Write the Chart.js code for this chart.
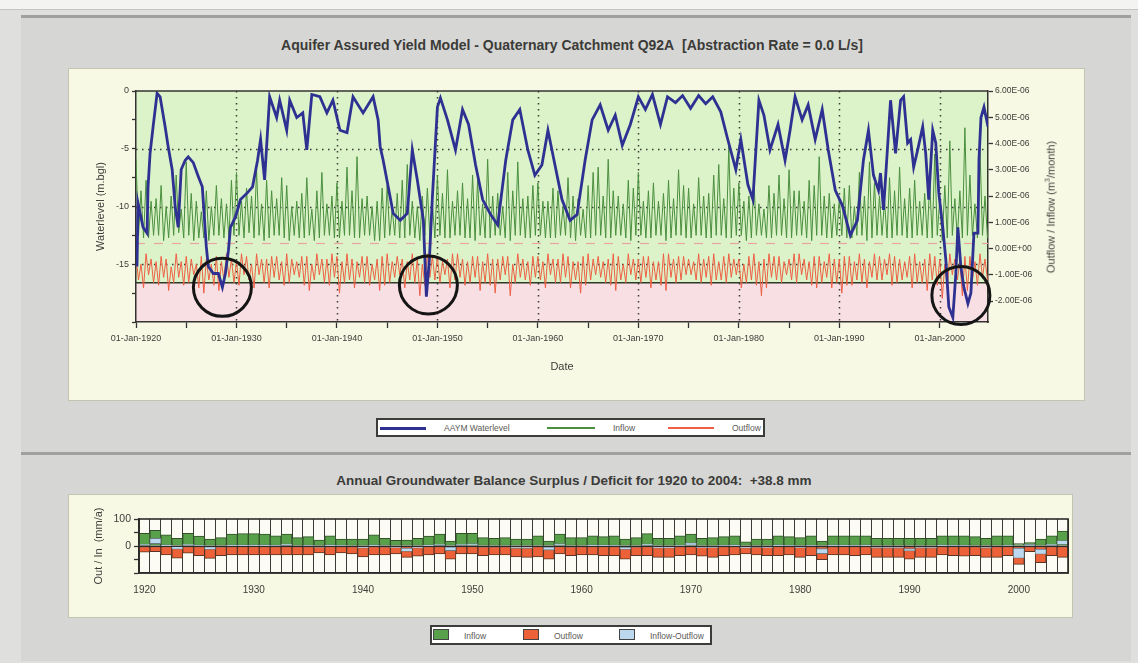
<!DOCTYPE html>
<html><head><meta charset="utf-8">
<script src="https://cdn.jsdelivr.net/npm/chart.js@4.4.0/dist/chart.umd.min.js"></script>
<style>
html,body{margin:0;padding:0;}
body{width:1138px;height:663px;background:#dfdfdd;position:relative;overflow:hidden;font-family:"Liberation Sans",Arial,sans-serif;}
.strip{position:absolute;left:0;top:0;width:1138px;height:9px;background:#f3f3f1;border-bottom:1px solid #c4c4c2;}
.panel{position:absolute;left:21px;width:1110px;background:#d6d6d4;border-top:3px solid #a0a09e;box-sizing:border-box;}
#p1{top:15px;height:437px;}
#p2{top:452px;height:209px;}
.inner{position:absolute;background:#f8f9e5;border:1px solid #c4c4b2;box-sizing:border-box;}
#i1{left:68px;top:68px;width:1017px;height:333px;}
#i2{left:68px;top:494px;width:1005px;height:124px;}
canvas{position:absolute;}
#c1{left:68px;top:68px;}
#c2{left:68px;top:494px;}
.title{position:absolute;text-align:center;font-weight:bold;color:#3b3b38;white-space:nowrap;}
#t1{left:222px;width:700px;top:37px;font-size:14px;}
#t2{left:224px;width:700px;top:473px;font-size:13.5px;}
.legend{position:absolute;background:#fff;border:2px solid #3c3c3a;box-sizing:border-box;}
.lg{position:absolute;font-size:8.5px;color:#5a5a55;white-space:nowrap;}
.ln{position:absolute;height:2px;}
.sq{position:absolute;width:16px;height:11px;border:1px solid #444;box-sizing:border-box;}
#rtitle{position:absolute;left:1050px;top:207px;transform:translate(-50%,-50%) rotate(-90deg);font-size:11px;color:#45453f;white-space:nowrap;}
</style></head>
<body>
<div class="strip"></div>
<div class="panel" id="p1"></div>
<div class="panel" id="p2"></div>
<div class="inner" id="i1"></div>
<div class="inner" id="i2"></div>
<div class="title" id="t1">Aquifer Assured Yield Model - Quaternary Catchment Q92A&nbsp;&nbsp;[Abstraction Rate = 0.0 L/s]</div>
<div class="title" id="t2">Annual Groundwater Balance Surplus / Deficit for 1920 to 2004:&nbsp; +38.8 mm</div>
<canvas id="c1" width="1017" height="333"></canvas>
<canvas id="c2" width="1005" height="124"></canvas>
<div id="rtitle">Outflow / Inflow (m<sup style="font-size:7px">3</sup>/month)</div>

<div class="legend" style="left:376px;top:418px;width:389px;height:19px;">
  <div class="ln" style="left:2px;top:7px;width:46px;height:3px;background:#2e3192"></div>
  <div class="lg" style="left:66px;top:3px;">AAYM Waterlevel</div>
  <div class="ln" style="left:169px;top:7px;width:48px;background:#4a8f3e"></div>
  <div class="lg" style="left:235px;top:3px;">Inflow</div>
  <div class="ln" style="left:290px;top:7px;width:46px;background:#ef5f45"></div>
  <div class="lg" style="left:354px;top:3px;">Outflow</div>
</div>
<div class="legend" style="left:430px;top:625px;width:282px;height:20px;">
  <div class="sq" style="left:1px;top:2px;background:#58a04a"></div>
  <div class="lg" style="left:32px;top:4px;">Inflow</div>
  <div class="sq" style="left:91px;top:2px;background:#ec6137"></div>
  <div class="lg" style="left:122px;top:4px;">Outflow</div>
  <div class="sq" style="left:187px;top:2px;background:#bcd8ef"></div>
  <div class="lg" style="left:218px;top:4px;">Inflow-Outflow</div>
</div>

<script>
// ---------------- DATA ----------------
// Waterlevel trace (decimal year, m below ground level)
const wlYears = [1920.1,1920.2,1920.7,1921.1,1921.2,1921.4,1921.7,1922.1,1922.4,1922.9,1923.2,1923.6,1923.9,1924.2,1924.5,1924.9,1925.2,1925.7,1926.2,1926.6,1926.8,1927.0,1927.2,1927.7,1928.2,1928.6,1928.9,1929.2,1929.4,1929.9,1930.4,1931.1,1931.6,1932.1,1932.4,1932.8,1933.3,1934.0,1934.3,1935.0,1935.3,1936.0,1936.6,1937.0,1937.5,1938.3,1939.0,1939.6,1940.3,1941.0,1941.6,1942.6,1943.6,1944.1,1944.3,1944.6,1945.3,1945.6,1946.3,1947.0,1947.5,1948.0,1948.6,1948.9,1949.2,1949.5,1950.0,1950.3,1951.0,1951.8,1952.5,1953.1,1953.8,1954.5,1955.3,1956.0,1956.8,1957.5,1958.2,1959.0,1959.7,1960.4,1961.0,1961.7,1962.4,1963.2,1963.9,1964.7,1965.4,1966.2,1967.0,1967.7,1968.4,1969.2,1970.0,1970.7,1971.4,1972.2,1972.9,1973.7,1974.4,1975.2,1976.0,1976.7,1977.4,1978.2,1978.9,1979.7,1980.2,1980.9,1981.4,1982.0,1982.5,1983.1,1983.9,1984.6,1985.1,1985.6,1986.3,1986.9,1987.6,1988.3,1988.9,1989.6,1990.3,1991.1,1991.8,1992.4,1992.9,1993.4,1993.9,1994.1,1994.4,1995.1,1995.6,1996.1,1996.4,1996.8,1997.1,1997.4,1997.8,1998.3,1998.6,1998.9,1999.3,1999.6,1999.9,2000.3,2000.6,2000.9,2001.3,2001.6,2001.8,2002.1,2002.4,2002.8,2003.1,2003.4,2003.8,2003.9,2004.1,2004.4,2004.8];
const wlLevels = [-15.2,-9.7,-11.8,-12.3,-8.3,-5.4,-3.1,-0.2,-0.5,-3.1,-4.8,-6.8,-10.0,-11.8,-6.8,-6.0,-5.7,-6.2,-7.4,-8.3,-10.9,-13.5,-15.2,-15.8,-15.8,-17.0,-15.8,-13.8,-11.8,-10.9,-9.4,-8.8,-8.3,-6.0,-4.2,-7.7,-0.5,-2.3,-0.8,-3.4,-0.8,-2.3,-1.9,-5.1,-0.3,-0.5,-1.9,-0.8,-3.4,-3.6,-0.5,-1.9,-0.5,-2.5,-4.8,-6.0,-9.2,-10.6,-11.2,-10.6,-5.1,-7.7,-11.2,-17.8,-14.6,-9.2,-1.4,-0.6,-2.5,-5.1,-1.6,-2.9,-6.4,-9.4,-10.7,-11.6,-6.0,-2.5,-1.6,-5.1,-7.3,-6.4,-3.4,-6.4,-9.4,-11.2,-10.7,-6.0,-2.5,-1.2,-3.4,-2.1,-4.7,-2.9,-0.5,-1.6,-0.3,-2.9,-0.5,-1.0,-0.4,-1.5,-0.4,-1.1,-0.5,-1.8,-4.2,-6.8,-4.2,-8.1,-9.4,-0.8,-2.1,-5.1,-2.9,-6.0,-3.4,-0.5,-2.5,-1.2,-4.2,-1.6,-5.1,-8.6,-9.9,-12.5,-11.2,-6.0,-3.4,-7.3,-8.6,-7.1,-10.3,-0.8,-5.4,-0.8,-0.5,-4.5,-4.2,-6.6,-5.1,-3.1,-5.4,-9.4,-3.4,-4.5,-8.8,-11.8,-14.6,-18.7,-19.6,-15.8,-11.8,-15.2,-17.0,-18.4,-17.5,-12.3,-12.3,-6.0,-2.3,-1.4,-3.1];

// Inflow / outflow, 4 readings per year from 1920 (units of 1E-06 m3/month)
const flowStartYear = 1920;
const flowPerYear = 4;
const inflow = [
3.4,0.5,2.2,0.4, 2.6,0.4,1.8,0.5, 1.9,0.5,2.4,0.3, 1.6,0.4,2.0,0.5, 2.8,0.6,1.5,0.4, 3.3,0.5,2.1,0.3, 1.8,0.4,1.4,0.4, 2.2,0.3,1.6,0.5, 2.4,0.5,1.9,0.4, 1.7,0.4,2.6,0.5,
2.9,0.5,1.8,0.4, 2.3,0.6,2.0,0.4, 3.0,0.5,1.7,0.3, 2.6,0.4,2.2,0.5, 1.9,0.5,2.7,0.4, 2.4,0.3,1.6,0.5, 1.8,0.4,2.1,0.4, 2.7,0.5,1.5,0.3, 2.2,0.4,2.9,0.5, 1.7,0.5,2.0,0.4,
2.5,0.4,1.8,0.5, 3.1,0.5,2.2,0.4, 3.5,0.4,1.9,0.5, 2.0,0.5,1.6,0.3, 1.8,0.3,2.3,0.4, 2.4,0.5,1.5,0.5, 2.1,0.4,2.6,0.4, 3.2,0.5,1.8,0.4, 1.6,0.3,2.0,0.5, 2.3,0.4,1.7,0.4,
2.8,0.5,2.1,0.4, 3.0,0.4,1.8,0.5, 2.2,0.5,2.5,0.4, 1.9,0.4,2.8,0.3, 2.6,0.5,1.7,0.4, 3.4,0.4,2.0,0.5, 2.1,0.5,1.6,0.4, 2.9,0.3,2.2,0.5, 3.3,0.5,1.9,0.4, 2.0,0.4,2.4,0.5,
2.5,0.5,1.8,0.4, 1.8,0.4,2.3,0.4, 2.2,0.5,1.6,0.5, 2.7,0.4,2.0,0.3, 1.9,0.5,1.5,0.4, 2.4,0.4,2.9,0.5, 3.1,0.5,2.0,0.4, 3.4,0.4,2.2,0.5, 2.0,0.5,1.7,0.4, 2.6,0.3,2.3,0.5,
2.9,0.5,1.8,0.4, 2.2,0.4,2.5,0.5, 1.8,0.5,2.1,0.3, 2.6,0.4,1.9,0.5, 3.0,0.5,2.4,0.4, 2.3,0.4,1.7,0.5, 2.7,0.5,2.0,0.4, 2.1,0.4,2.8,0.5, 3.2,0.5,1.9,0.4, 3.9,0.4,2.3,0.5,
2.5,0.5,1.8,0.3, 2.0,0.4,2.6,0.5, 1.7,0.5,1.5,0.4, 2.4,0.4,2.1,0.5, 2.8,0.5,1.9,0.4, 3.0,0.4,2.2,0.5, 2.2,0.5,1.8,0.4, 2.6,0.3,2.4,0.5, 3.5,0.5,2.0,0.4, 2.1,0.4,1.7,0.5,
1.9,0.5,2.3,0.4, 2.4,0.4,1.6,0.5, 2.9,0.5,2.0,0.3, 3.3,0.4,2.5,0.5, 2.0,0.5,1.8,0.4, 2.7,0.4,2.2,0.5, 3.1,0.5,1.9,0.4, 2.3,0.4,2.6,0.5, 1.8,0.5,2.1,0.4, 2.5,0.4,3.6,0.5,
1.9,0.3,2.4,0.4, 4.1,0.5,1.9,0.4, 2.2,0.4,4.6,0.5, 2.8,0.5,1.7,0.4, 3.8,0.5,2.0,0.4];
const outflow = [
-0.3,-1.2,-0.6,-1.5, -0.2,-1.0,-0.4,-1.3, -0.5,-1.4,-0.3,-1.1, -0.4,-1.6,-0.7,-1.3, -0.2,-1.1,-0.5,-1.4, -0.3,-1.3,-0.4,-1.0, -0.6,-1.5,-0.3,-1.7, -0.4,-1.2,-0.6,-1.4, -0.3,-1.6,-0.5,-1.2, -0.2,-1.1,-0.4,-1.3,
-0.5,-1.4,-0.2,-1.0, -0.3,-1.2,-0.6,-1.5, -0.2,-1.0,-0.4,-1.3, -0.4,-1.5,-0.3,-1.1, -0.3,-1.2,-0.5,-1.4, -0.2,-1.3,-0.4,-1.0, -0.5,-1.1,-0.3,-1.4, -0.3,-1.6,-0.6,-1.2, -0.2,-1.0,-0.4,-1.3, -0.4,-1.4,-0.2,-1.1,
-0.3,-1.7,-0.5,-1.3, -0.2,-1.2,-0.4,-1.5, -0.5,-1.1,-0.3,-1.3, -0.3,-1.4,-0.6,-1.2, -0.4,-1.6,-0.3,-1.4, -0.2,-1.3,-0.5,-1.1, -0.3,-1.0,-0.4,-1.5, -0.5,-1.2,-0.2,-1.3, -0.4,-1.8,-0.6,-1.4, -0.2,-1.1,-0.3,-1.2,
-0.3,-1.3,-0.5,-1.0, -0.4,-1.5,-0.2,-1.2, -0.2,-1.1,-0.4,-1.4, -0.5,-1.3,-0.3,-1.1, -0.3,-1.6,-0.5,-1.3, -0.2,-1.4,-0.4,-1.7, -0.4,-1.2,-0.3,-1.0, -0.3,-1.8,-0.6,-1.3, -0.2,-1.1,-0.4,-1.2, -0.5,-1.4,-0.3,-1.1,
-0.3,-1.2,-0.5,-1.5, -0.2,-1.0,-0.4,-1.3, -0.4,-1.3,-0.2,-1.1, -0.3,-1.5,-0.5,-1.2, -0.5,-1.7,-0.3,-1.4, -0.2,-1.2,-0.4,-1.0, -0.3,-1.1,-0.5,-1.3, -0.4,-1.4,-0.2,-1.6, -0.3,-1.2,-0.6,-1.3, -0.2,-1.0,-0.4,-1.2,
-0.4,-1.3,-0.3,-1.1, -0.3,-1.5,-0.5,-1.2, -0.5,-1.4,-0.2,-1.6, -0.2,-1.1,-0.4,-1.3, -0.3,-1.2,-0.3,-1.0, -0.4,-1.0,-0.5,-1.2, -0.2,-1.3,-0.4,-1.1, -0.3,-1.4,-0.2,-1.2, -0.5,-1.2,-0.3,-1.3, -0.2,-1.1,-0.4,-1.0,
-0.4,-1.5,-0.6,-1.3, -0.3,-1.2,-0.2,-1.4, -0.5,-1.8,-0.4,-1.5, -0.2,-1.1,-0.3,-1.2, -0.3,-1.3,-0.5,-1.0, -0.4,-1.2,-0.2,-1.3, -0.2,-1.0,-0.4,-1.2, -0.5,-1.4,-0.3,-1.5, -0.3,-1.3,-0.5,-1.1, -0.2,-1.5,-0.4,-1.3,
-0.4,-1.7,-0.3,-1.4, -0.3,-1.4,-0.5,-1.2, -0.2,-1.3,-0.4,-1.5, -0.5,-1.1,-0.2,-1.2, -0.3,-1.2,-0.4,-1.0, -0.2,-1.4,-0.3,-1.3, -0.4,-1.2,-0.5,-1.1, -0.3,-1.5,-0.2,-1.3, -0.5,-1.3,-0.4,-1.6, -0.2,-1.2,-0.3,-1.4,
-0.4,-1.9,-0.6,-1.5, -0.2,-1.0,-0.4,-1.2, -0.5,-1.8,-0.3,-1.6, -0.3,-1.2,-0.5,-1.4, -0.2,-1.1,-0.4,-1.2];

// Axis tick values
const xTickYears = [1920,1925,1930,1935,1940,1945,1950,1955,1960,1965,1970,1975,1980,1985,1990,1995,2000];
const gridYears = [1930,1940,1950,1960,1970,1980,1990,2000];
const levelTicks = [0,-2.5,-5,-7.5,-10,-12.5,-15,-17.5,-20];
const levelGrid = [-5,-10,-15];
const flowTicks = [-2,-1,0,1,2,3,4,5,6];
const bandLevel = -16.6;      // level of the green/pink boundary line
const dashLevel = -13.2;      // faint red dashed line
const circleMarks = [[1928.6,-17.0],[1949.1,-16.8],[2002.1,-17.7]];

// Annual balance (mm/a)
const years = [];
for (let y = 1920; y <= 2004; y++) years.push(y);
const annualInflow = [47,58,41,28,47,37,26,31,44,46, 46,44,38,44,31,35,22,38,26,26, 26,41,28,21,22,28,37,44,18,47, 47,31,28,31,26,26,38,18,44,31, 31,38,35,38,26,31,46,28,28,38, 44,28,31,35,38,15,26,26,38,35, 31,38,18,38,38,38,38,28,28,28, 28,28,28,38,38,38,35,28,38,38, 9,13,26,38,55];
const annualOutflow = [-23,-21,-33,-45,-27,-36,-46,-36,-33,-33, -33,-33,-33,-33,-33,-33,-26,-33,-26,-29, -40,-33,-33,-29,-42,-38,-33,-29,-49,-29, -29,-36,-33,-33,-40,-42,-40,-49,-29,-36, -33,-33,-36,-36,-49,-36,-36,-42,-42,-36, -33,-38,-42,-36,-33,-29,-33,-36,-36,-33, -42,-36,-51,-33,-33,-36,-33,-42,-42,-42, -49,-42,-42,-33,-36,-38,-36,-42,-42,-36, -68,-21,-62,-36,-42];
const annualBalance = [[2,7],[9,28],[1,4],[-12,-2],[2,6],[1,3],[-13,-3],[-4,-1],[1,4],[1,4],
 [1,4],[1,4],[1,3],[2,8],[-3,-1],[1,3],[-5,-1],[1,4],[1,3],[-3,-1],
 [-8,-2],[1,4],[-4,-1],[-6,-2],[-20,-8],[-8,-2],[1,4],[2,7],[-17,-4],[2,7],
 [3,9],[-4,-1],[-4,-1],[-3,-1],[-9,-3],[-9,-3],[-3,-1],[-15,-4],[3,9],[-4,-1],
 [-3,-1],[1,4],[1,4],[1,3],[-13,-5],[-4,-1],[2,8],[-8,-2],[-8,-2],[1,3],
 [3,12],[-6,-2],[-6,-2],[1,3],[1,4],[-8,-2],[-5,-1],[-6,-2],[1,4],[1,3],
 [-6,-2],[1,3],[-28,-10],[1,4],[1,4],[1,3],[1,4],[-8,-3],[-8,-3],[-8,-3],
 [-18,-10],[-8,-3],[-8,-3],[1,4],[1,3],[1,3],[-3,-1],[-8,-3],[-3,-1],[1,3],
 [-45,-8],[1,6],[-30,-12],[1,7],[6,20]];
const balanceTicks = [-100,-50,0,50,100];

// ---------------- CHART 1 ----------------
const F = "'Liberation Sans', Arial, sans-serif";
const TXT = '#3c3c38';

const topPlugin = {
  id: 'topDecor',
  beforeDraw(chart) {
    const {ctx, chartArea: a, scales: {y}} = chart;
    const yb = y.getPixelForValue(bandLevel);
    ctx.save();
    ctx.fillStyle = '#dcf3c9';
    ctx.fillRect(a.left, a.top, a.width, yb - a.top);
    ctx.fillStyle = '#f8dfe3';
    ctx.fillRect(a.left, yb, a.width, a.bottom - yb);
    ctx.restore();
  },
  beforeDatasetsDraw(chart) {
    const {ctx, chartArea: a, scales: {x, y}} = chart;
    ctx.save();
    ctx.strokeStyle = '#3a3a36';
    ctx.lineWidth = 1.5;
    ctx.setLineDash([1.5, 4.5]);
    gridYears.forEach(v => {
      const px = Math.round(x.getPixelForValue(v)) + 0.5;
      ctx.beginPath(); ctx.moveTo(px, a.top); ctx.lineTo(px, a.bottom); ctx.stroke();
    });
    levelGrid.forEach(v => {
      const py = Math.round(y.getPixelForValue(v)) + 0.5;
      ctx.beginPath(); ctx.moveTo(a.left, py); ctx.lineTo(a.right, py); ctx.stroke();
    });
    ctx.strokeStyle = '#eba3a3';
    ctx.lineWidth = 1.2;
    ctx.setLineDash([9, 9]);
    const pd = Math.round(y.getPixelForValue(dashLevel)) + 0.5;
    ctx.beginPath(); ctx.moveTo(a.left, pd); ctx.lineTo(a.right, pd); ctx.stroke();
    ctx.setLineDash([]);
    ctx.strokeStyle = '#2f3a2a';
    ctx.lineWidth = 1.6;
    const pb = y.getPixelForValue(bandLevel);
    ctx.beginPath(); ctx.moveTo(a.left, pb); ctx.lineTo(a.right, pb); ctx.stroke();
    ctx.restore();
  },
  afterDatasetsDraw(chart) {
    const {ctx, chartArea: a, scales: {x, y}} = chart;
    ctx.save();
    ctx.strokeStyle = '#333330';
    ctx.lineWidth = 1.5;
    ctx.beginPath(); ctx.moveTo(a.left, a.top); ctx.lineTo(a.right, a.top); ctx.stroke();
    ctx.strokeStyle = '#151515';
    ctx.lineWidth = 3;
    circleMarks.forEach(([cx, cy]) => {
      ctx.beginPath();
      ctx.arc(x.getPixelForValue(cx), y.getPixelForValue(cy), 29, 0, Math.PI * 2);
      ctx.stroke();
    });
    ctx.restore();
  }
};

new Chart(document.getElementById('c1'), {
  type: 'line',
  data: {
    datasets: [
      {label: 'AAYM Waterlevel', yAxisID: 'y', order: 0,
       data: wlYears.map((t, i) => ({x: t, y: wlLevels[i]})),
       borderColor: '#2e3192', borderWidth: 2.8, pointRadius: 0, tension: 0},
      {label: 'Outflow', yAxisID: 'y2', order: 1,
       data: outflow.map((v, i) => ({x: flowStartYear + i / flowPerYear, y: v})),
       borderColor: '#ef5f45', borderWidth: 1, pointRadius: 0, tension: 0},
      {label: 'Inflow', yAxisID: 'y2', order: 2,
       data: inflow.map((v, i) => ({x: flowStartYear + i / flowPerYear, y: v})),
       borderColor: '#4a8f3e', borderWidth: 1, pointRadius: 0, tension: 0}
    ]
  },
  options: {
    responsive: false, animation: false, events: [],
    layout: {padding: {top: 23, left: 0, right: 0, bottom: 0}},
    plugins: {legend: {display: false}, tooltip: {enabled: false}},
    scales: {
      x: {
        type: 'linear', min: 1920, max: 2004.8,
        afterBuildTicks: s => { s.ticks = xTickYears.map(v => ({value: v})); },
        afterFit: s => { s.height = 79; },
        ticks: {callback: v => (v % 10 === 0 ? '01-Jan-' + v : ''), autoSkip: false, maxRotation: 0,
                font: {size: 9, family: F}, color: TXT, padding: 5},
        grid: {drawOnChartArea: false, tickLength: 6, tickColor: '#333', tickWidth: 1.3},
        border: {color: '#333330', width: 1.5},
        title: {display: true, text: 'Date', font: {size: 11, family: F}, color: TXT, padding: {top: 0, bottom: 27}}
      },
      y: {
        position: 'left', min: -20, max: 0,
        afterBuildTicks: s => { s.ticks = levelTicks.map(v => ({value: v})); },
        afterFit: s => { s.width = 68; },
        ticks: {callback: v => (v % 5 === 0 && v !== -20 ? String(v) : ''), autoSkip: false,
                font: {size: 9, family: F}, color: TXT, padding: 3},
        grid: {drawOnChartArea: false, tickLength: 4, tickColor: '#333', tickWidth: 1.3},
        border: {color: '#333330', width: 1.5},
        title: {display: true, text: 'Waterlevel (m.bgl)', font: {size: 11, family: F}, color: TXT, padding: {top: 26, bottom: 0}}
      },
      y2: {
        position: 'right', min: -2.8, max: 6,
        afterBuildTicks: s => { s.ticks = flowTicks.map(v => ({value: v})); },
        afterFit: s => { s.width = 97; },
        ticks: {callback: v => (v === 0 ? '0.00E+00' : v.toFixed(2) + 'E-06'), autoSkip: false,
                font: {size: 8.5, family: F}, color: TXT, padding: 2},
        grid: {drawOnChartArea: false, tickLength: 5, tickColor: '#333', tickWidth: 1.3},
        border: {color: '#333330', width: 1.5}
      }
    }
  },
  plugins: [topPlugin]
});

// ---------------- CHART 2 ----------------
const botPlugin = {
  id: 'botDecor',
  beforeDraw(chart) {
    const {ctx, chartArea: a} = chart;
    ctx.save();
    ctx.fillStyle = '#fcfcf4';
    ctx.fillRect(a.left, a.top, a.width, a.height);
    ctx.restore();
  },
  afterDatasetsDraw(chart) {
    const {ctx, chartArea: a, scales: {y}} = chart;
    ctx.save();
    ctx.strokeStyle = '#2c2c2a';
    ctx.lineWidth = 1.2;
    const p0 = Math.round(y.getPixelForValue(0)) + 0.5;
    ctx.beginPath(); ctx.moveTo(a.left, p0); ctx.lineTo(a.right, p0); ctx.stroke();
    ctx.lineWidth = 1.6;
    ctx.strokeRect(a.left, a.top, a.width, a.height);
    ctx.restore();
  }
};

new Chart(document.getElementById('c2'), {
  type: 'bar',
  data: {
    labels: years,
    datasets: [
      {label: 'Inflow-Outflow', data: annualBalance, order: 0,
       backgroundColor: '#bcd8ef', borderColor: '#6a7a80', borderWidth: 0.8, borderSkipped: false,
       barPercentage: 1, categoryPercentage: 1},
      {label: 'Inflow', data: annualInflow, order: 1,
       backgroundColor: '#58a04a', borderColor: '#33502b', borderWidth: 1, borderSkipped: false,
       barPercentage: 1, categoryPercentage: 1},
      {label: 'Outflow', data: annualOutflow, order: 1,
       backgroundColor: '#ec6137', borderColor: '#5a3525', borderWidth: 1, borderSkipped: false,
       barPercentage: 1, categoryPercentage: 1}
    ]
  },
  options: {
    responsive: false, animation: false, events: [],
    layout: {padding: {top: 25, left: 0, right: 5, bottom: 0}},
    plugins: {legend: {display: false}, tooltip: {enabled: false}},
    scales: {
      x: {
        stacked: true,
        afterFit: s => { s.height = 45; },
        ticks: {autoSkip: false, maxRotation: 0, minRotation: 0,
                callback: (v, i) => (years[i] % 10 === 0 ? String(years[i]) : ''),
                font: {size: 10, family: F}, color: TXT, padding: 5},
        grid: {offset: true, color: '#3a3a36', lineWidth: 1, tickLength: 6, tickColor: 'rgba(0,0,0,0)'},
        border: {color: '#2c2c2a', width: 1.5}
      },
      y: {
        stacked: false, min: -100, max: 100,
        afterBuildTicks: s => { s.ticks = balanceTicks.map(v => ({value: v})); },
        afterFit: s => { s.width = 71; },
        ticks: {callback: v => (v === 100 || v === 0 ? String(v) : ''), autoSkip: false,
                font: {size: 10.5, family: F}, color: TXT, padding: 3},
        grid: {drawOnChartArea: false, tickLength: 5, tickColor: '#333', tickWidth: 1.3},
        border: {color: '#2c2c2a', width: 1.5},
        title: {display: true, text: 'Out / In  (mm/a)', font: {size: 11, family: F}, color: TXT, padding: {top: 24, bottom: 0}}
      }
    }
  },
  plugins: [botPlugin]
});
</script>
</body></html>
